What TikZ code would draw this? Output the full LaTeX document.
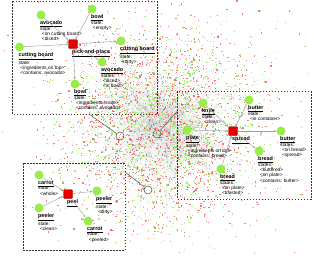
\documentclass[tikz,border=0pt]{standalone}
\usepackage{fontspec}
\setmainfont{Liberation Sans}
\usetikzlibrary{arrows.meta}
\definecolor{objgreen}{RGB}{150,238,70}
\definecolor{actred}{RGB}{225,0,0}
\definecolor{dotred}{RGB}{235,80,80}
\definecolor{dotgreen}{RGB}{160,232,100}
\definecolor{edgegray}{RGB}{160,160,160}
\newcommand{\ttl}[1]{{\fontsize{5.4}{5.3}\selectfont\bfseries\underline{#1}}}
\newcommand{\objitem}[5]{%
  \node[obj] (#1) at (#2,#3) {};
  \node[lbl] (#1-l) at ([xshift=-1pt,yshift=-1pt]#1.south) {\ttl{#4}\\#5};}
\newcommand{\actitem}[4]{%
  \node[act] (#1) at (#2,#3) {};
  \node[lbl] (#1-l) at ([xshift=-1pt,yshift=-0.5pt]#1.south) {\ttl{#4}};}
\newcommand{\ind}{\hspace*{1.8pt}}
\begin{document}
\begin{tikzpicture}[x=1pt,y=-1pt,
  obj/.style={circle,fill=objgreen,minimum size=9pt,inner sep=0pt},
  act/.style={rectangle,fill=actred,draw=actred!75!black,line width=0.3pt,minimum size=9pt,inner sep=0pt,rounded corners=1pt},
  lbl/.style={anchor=north west,align=left,inner sep=0pt,font=\fontsize{4.8}{5.3}\selectfont},
  conn/.style={draw=edgegray,line width=0.45pt,-{Stealth[length=2.4pt,width=2.2pt]}},
  boxframe/.style={draw=black!80,line width=0.7pt,dash pattern=on 1.5pt off 1.5pt},
  zoomc/.style={circle,draw=black!70,line width=0.5pt,minimum size=8pt,inner sep=0pt},
  zoomline/.style={draw=black!70,line width=0.5pt},
  rdot/.style={fill=dotred,opacity=0.75},
  gdot/.style={fill=dotgreen,opacity=0.85},
  haze/.style={draw=black!30,line width=0.15pt,opacity=0.35}]
\useasboundingbox (0,0) rectangle (314,255);
\begin{scope}
\clip (0,0) rectangle (314,255);
\pgfmathsetseed{4242}
% faint background edges
\foreach \i in {1,...,400}{
  \pgfmathsetmacro\xa{160+45*(rand+rand+rand)}
  \pgfmathsetmacro\ya{125+45*(rand+rand+rand)}
  \pgfmathsetmacro\xb{160+25*(rand+rand)}
  \pgfmathsetmacro\yb{125+25*(rand+rand)}
  \draw[haze] (\xa,\ya) -- (\xb,\yb);
}
% background dots
\foreach \i in {1,...,1300}{
  \pgfmathsetmacro\xx{160+46*(rand+rand+rand)}
  \pgfmathsetmacro\yy{125+48*(rand+rand+rand)}
  \fill[rdot] (\xx,\yy) rectangle ++(1.2,1.2);
}
\foreach \i in {1,...,1300}{
  \pgfmathsetmacro\xx{160+48*(rand+rand+rand)}
  \pgfmathsetmacro\yy{125+50*(rand+rand+rand)}
  \fill[gdot] (\xx,\yy) rectangle ++(1.2,1.2);
}
\foreach \i in {1,...,300}{
  \pgfmathsetmacro\xx{160+75*(rand+rand+rand)}
  \pgfmathsetmacro\yy{125+70*(rand+rand+rand)}
  \fill[rdot] (\xx,\yy) rectangle ++(1.2,1.2);
}
\foreach \i in {1,...,350}{
  \pgfmathsetmacro\xx{160+75*(rand+rand+rand)}
  \pgfmathsetmacro\yy{125+70*(rand+rand+rand)}
  \fill[gdot] (\xx,\yy) rectangle ++(1.2,1.2);
}
\end{scope}

% ---------- frames
\draw[boxframe] (12.5,1) rectangle (157,114);
\draw[boxframe] (177.5,91) rectangle (311,199);
\draw[boxframe] (23,163) rectangle (125,250);

% ---------- zoom markers
\node[zoomc] (z1) at (120,136) {};
\node[zoomc] (z2) at (157,134) {};
\node[zoomc] (z3) at (148,190) {};
\coordinate (e1) at (89,114);
\coordinate (e2) at (177.5,111);
\coordinate (e3) at (125,172);
\draw[zoomline] (e1) -- (z1);
\draw[zoomline] (e2) -- (z2);
\draw[zoomline] (e3) -- (z3);

% ---------- box 1: pick-and-place
\actitem{pp}{73}{44}{pick-and-place}
\objitem{av1}{41}{15}{avocado}{state:\\\ind<on cutting board>\\\ind<diced>}
\objitem{bw1}{92}{9}{bowl}{state:\\\ind<empty>}
\objitem{cb1}{19.5}{47}{cutting board}{state:\\\ind<ingredients on top>\\\ind<contains: avocado>}
\objitem{cb2}{121}{41}{cutting board}{state:\\\ind<dirty>}
\objitem{av2}{102}{62}{avocado}{states:\\\ind<diced>\\\ind<in bowl>}
\objitem{bw2}{75}{84}{bowl}{state:\\\ind<ingredients inside>\\\ind<contains: avocado>}
\draw[conn] (av1) -- (pp);
\draw[conn] (bw1) -- (pp);
\draw[conn] (cb1) -- (pp);
\draw[conn] (pp) -- (cb2);
\draw[conn] (pp) -- (av2);
\draw[conn] (pp) -- (bw2);

% ---------- box 2: spread
\actitem{sp}{233}{131}{spread}
\objitem{kn}{203}{103}{knife}{state:\\\ind<clean>}
\objitem{bu1}{249}{100}{butter}{state:\\\ind<in container>}
\objitem{pl}{187}{130}{plate}{state:\\\ind<ingredients on top>\\\ind<contains: bread>}
\objitem{bu2}{281}{131}{butter}{states:\\\ind<on bread>\\\ind<spread>}
\objitem{br1}{259}{151}{bread}{states:\\\ind<buttered>\\\ind<on plate>\\\ind<contains: butter>}
\objitem{br2}{221}{169}{bread}{states:\\\ind<on plate>\\\ind<toasted>}
\draw[conn] (kn) -- (sp);
\draw[conn] (bu1) -- (sp);
\draw[conn] (pl) -- (sp);
\draw[conn] (br2) -- (sp);
\draw[conn] (sp) -- (bu2);
\draw[conn] (sp) -- (br1);

% ---------- box 3: peel
\actitem{pe}{68}{194}{peel}
\objitem{ca1}{39}{175}{carrot}{state:\\\ind<whole>}
\objitem{pr1}{39}{208}{peeler}{state:\\\ind<clean>}
\objitem{pr2}{97}{191}{peeler}{state:\\\ind<dirty>}
\objitem{ca2}{88}{221}{carrot}{state:\\\ind<peeled>}
\draw[conn] (ca1) -- (pe);
\draw[conn] (pr1) -- (pe);
\draw[conn] (pe) -- (pr2);
\draw[conn] (pe) -- (ca2);
\end{tikzpicture}
\end{document}
